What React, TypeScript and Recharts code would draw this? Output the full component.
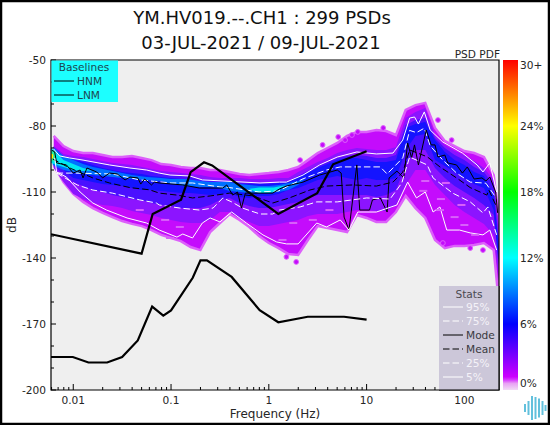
import React from "react";
import { ComposedChart, Area, Line, Bar, XAxis, YAxis, ReferenceArea } from "recharts";

const TITLE_1 = "YM.HV019.--.CH1 : 299 PSDs";
const TITLE_2 = "03-JUL-2021 / 09-JUL-2021";
const DB_TICKS = [-50,-60,-70,-80,-90,-100,-110,-120,-130,-140,-150,-160,-170,-180,-190,-200];
const DB_LABELLED = [-50,-80,-110,-140,-170,-200];
const FREQ_TICKS = [0.006,0.007,0.008,0.009,0.01,0.02,0.03,0.04,0.05,0.06,0.07,0.08,0.09,0.1,0.2,0.3,0.4,0.5,0.6,0.7,0.8,0.9,1,2,3,4,5,6,7,8,9,10,20,30,40,50,60,70,80,90,100,200];
const FREQ_LABELS: Record<string,string> = { "0.01":"0.01","0.1":"0.1","1":"1","10":"10","100":"100" };
const PDF_TICKS = [0,6,12,18,24,30];

// log10(frequency) of the PDF band samples
const gridL = [-2.2,-2.1,-2,-1.9,-1.8,-1.7,-1.6,-1.5,-1.4,-1.3,-1.2,-1.1,-1,-0.9,-0.8,-0.7,-0.6,-0.5,-0.4,-0.3,-0.2,-0.1,0,0.1,0.2,0.3,0.4,0.5,0.6,0.7,0.8,0.9,1,1.1,1.2,1.3,1.4,1.5,1.6,1.7,1.8,1.9,2,2.1,2.2,2.3,2.35];
const outerHigh = [-84.5,-89.1,-91.4,-92.3,-92.3,-93.2,-94.1,-94.1,-93.6,-94.5,-95.5,-97.3,-97.7,-98.6,-99.1,-99.1,-100,-100,-100.9,-101.8,-102.3,-101.8,-101.4,-100.9,-100,-98.6,-95.5,-92.3,-90,-87.7,-84.5,-82.7,-82.7,-81.8,-82.3,-84.1,-72.7,-70.5,-69.5,-80.9,-86.8,-89.1,-91.4,-92.3,-94.1,-102.3,-120.5];
const outerLow = [-97.7,-105.5,-110.9,-114.5,-117.3,-119.5,-121.4,-123.2,-124.5,-125.5,-127.3,-129.5,-130.9,-132.3,-135,-136.4,-128.2,-124.1,-120,-122.7,-125.9,-130,-133.2,-135.5,-138.2,-138.6,-131.8,-125.5,-126.4,-127.3,-128.2,-120.5,-121.8,-123.6,-123.6,-119.1,-111.8,-117.3,-121.8,-131.8,-135.5,-134.5,-134.5,-134.1,-133.2,-136.4,-159.1];
const violetHigh = [-89.1,-92.7,-93.6,-94.1,-95,-95.9,-96.8,-97.3,-97.7,-98.6,-99.5,-100.5,-100.9,-101.4,-101.8,-102.3,-103.2,-103.6,-103.6,-103.6,-104.1,-104.1,-104.1,-103.6,-103.6,-100.9,-98.6,-96.4,-94.5,-92.3,-90.9,-90,-90.5,-90.9,-90.9,-89.5,-76.4,-73.6,-71.8,-84.1,-88.6,-91.4,-93.2,-95.9,-99.1,-104.5,-125];
const violetLow = [-99.1,-105.5,-110.9,-113.2,-115,-115.9,-116.4,-117.3,-118.6,-119.5,-120.5,-121.8,-122.7,-123.6,-124.1,-124.1,-122.7,-119.1,-119.1,-121.8,-123.6,-125.5,-125.5,-124.5,-123.6,-122.7,-120.9,-120,-120,-120,-119.1,-118.2,-118.2,-118.6,-118.6,-115.9,-106.8,-100,-100,-106.8,-111.4,-115.9,-119.1,-121.8,-124.5,-129.5,-150];
const blueHigh = [-89.5,-93.6,-94.5,-95.5,-96.4,-97.3,-98.2,-98.6,-99.1,-100,-100.9,-101.8,-102.3,-102.7,-103.2,-104.1,-104.5,-105,-105,-105.5,-105.9,-105.9,-105.9,-105.5,-105,-102.7,-100.5,-98.2,-96.4,-94.5,-93.6,-93.2,-93.6,-94.5,-94.5,-93.2,-79.5,-77.3,-76.4,-85.5,-90,-93.2,-95.5,-98.6,-100.9,-106.8,-131.8];
const blueLow = [-97.7,-102.3,-105.5,-107.3,-109.1,-110,-111.4,-112.3,-113.2,-113.6,-115,-115.9,-116.4,-117.3,-117.3,-117.3,-115.9,-113.6,-112.7,-115,-116.4,-117.3,-117.3,-116.4,-115.5,-114.5,-112.7,-111.4,-111.4,-111.4,-111.4,-111.4,-111.4,-112.3,-111.4,-109.1,-97.7,-90.9,-90.9,-99.1,-103.6,-107.3,-110,-112.7,-115.9,-120.5,-140.9];
const coreHigh = [-90,-94.1,-95.5,-96.4,-97.7,-99.1,-100,-100.9,-101.4,-101.8,-102.7,-103.2,-103.6,-104.1,-104.5,-105.5,-105.9,-105.9,-105.9,-106.4,-106.4,-106.4,-106.4,-105.9,-105.5,-103.2,-101.4,-99.1,-97.3,-95.5,-94.5,-94.5,-95.5,-96.4,-96.4,-95.5,-80.9,-79.1,-78.2,-86.4,-91.8,-95.5,-97.7,-100.9,-102.7,-111.4,-134.1];
const coreLow = [-96.4,-100,-103.6,-104.5,-105.5,-106.4,-106.8,-107.3,-108.2,-109.1,-109.1,-109.5,-110,-110.5,-110.5,-110.9,-111.4,-110.9,-110.5,-112.3,-112.7,-111.8,-111.8,-110.9,-109.1,-108.2,-106.4,-104.5,-103.6,-102.7,-103.6,-104.5,-103.6,-104.5,-104.5,-103.6,-90.9,-84.5,-83.6,-95.5,-98.2,-100.9,-103.6,-106.4,-108.2,-118.2,-143.2];

const azureL = [-2.21,-2.1,-2,-1.9,-1.8,-1.7,-1.6,-1.5,-1.4,-1.25,-1.1,-1,-0.85,-0.7,-0.6,-0.5,-0.4,-0.3,-0.2,-0.1,0,0.1,0.2,0.3,0.36];
const azureHigh = [-89.5,-93.6,-95.5,-97.3,-98.6,-99.5,-100.5,-101.4,-102.3,-103.2,-103.6,-104.1,-104.1,-105,-105.5,-105.5,-105.5,-106.4,-106.8,-107.3,-107.3,-106.8,-105.9,-105,-104.1];
const azureLow = [-97.7,-100,-100.9,-101.8,-102.3,-102.7,-103.2,-103.6,-104.1,-104.5,-105,-106.4,-107.3,-107.7,-107.7,-108.2,-109.5,-110,-110.5,-110.5,-110.5,-110,-109.1,-106.8,-104.5];
const cyanLeftL = [-2.228,-2.1,-2,-1.9,-1.82];
const cyanLeftHigh = [-90,-95.5,-97.3,-99.1,-100];
const cyanLeftLow = [-96.8,-98.6,-100,-100.5,-100.2];
const cyanRightL = [-0.2,-0.1,0,0.05,0.1,0.17];
const cyanRightHigh = [-108.5,-108,-108,-108,-107.5,-107];
const cyanRightLow = [-108.7,-110.5,-110.5,-110,-108.6,-107.2];
const greenL = [-2.228,-2.2,-2.18];
const greenHigh = [-91,-91.2,-92];
const greenLow = [-96,-96,-94.5];
const yellowL = [-2.228,-2.205];
const yellowHigh = [-92.5,-93];
const yellowLow = [-95,-94.8];

// isolated PDF cells outside the main cloud, and the pale cells inside its lower part
const speckL = [0.55,0.91,0.78,1.17,0.71,0.32,1.73,0.85,1.87,0.18,0.28,1.78,2.19,2.06];
const speckDb = [-88.6,-82.7,-86.4,-80.9,-85,-95.5,-77.3,-84.1,-86.4,-139.5,-141.8,-133.2,-136.4,-135.5];
const paleL = [0.25,0.62,0.14,0.45,-1.06,-1.32,-0.91,-1.01,1.6,1.58,1.76,1.75,1.9,2,2.11,1.81,1.97];
const paleDb = [-124.1,-118.2,-131.8,-122.7,-122.7,-118.2,-125.9,-130.9,-105,-109.5,-113.2,-118.2,-121.4,-125,-129.5,-105.9,-115.9];

const p95L = [-2.21,-2.14,-2.04,-1.9,-1.63,-1.42,-1.25,-1.12,-1.01,-0.81,-0.68,-0.09,0.11,0.18,0.35,0.52,0.7,0.9,1.1,1.27,1.37,1.44,1.49,1.53,1.59,1.65,1.78,1.98,2.13,2.19,2.26,2.33];
const p95 = [-90,-93.6,-94.5,-95.5,-97.7,-99.1,-100,-101.4,-102.3,-102.7,-104.5,-105.9,-105.5,-105.5,-102.3,-97.7,-94.1,-91.8,-92.7,-92.3,-86.4,-76.4,-75.9,-79.1,-73.6,-81.8,-87.3,-92.3,-97.7,-100.9,-96.8,-110];
const p75L = [-2.17,-2,-1.6,-1.32,-1,-0.78,-0.5,-0.4,-0.1,0.1,0.35,0.59,0.73,1.14,1.21,1.37,1.44,1.51,1.59,1.65,1.78,1.92,2.06,2.22,2.33];
const p75 = [-101.4,-101.4,-101.8,-104.5,-105.9,-105.9,-107.7,-108,-110,-109.5,-104,-100,-98.6,-98.6,-101.8,-94.5,-82,-83,-81,-89,-95.5,-101.4,-105.5,-106,-113];
const meanL = [-2.21,-2.04,-1.8,-1.63,-1.42,-1.22,-1.12,-0.94,-0.78,-0.6,-0.4,-0.16,0.04,0.21,0.42,0.59,0.86,1.1,1.27,1.37,1.44,1.62,1.75,1.92,2.06,2.23,2.25,2.33];
const mean = [-95,-99,-103.6,-105.9,-108,-109,-110.5,-111.4,-112.7,-111.8,-110.5,-111.8,-115,-112.7,-109.1,-107.3,-106.8,-107.3,-105.5,-101,-90.9,-94,-98.6,-103.6,-108,-111.4,-109.1,-116.8];
const p25L = [-2.17,-1.96,-1.8,-1.6,-1.32,-1.15,-1.12,-0.91,-0.71,-0.57,-0.47,-0.38,-0.27,-0.09,0.04,0.11,0.32,0.49,0.7,1,1.24,1.36,1.44,1.62,1.68,1.88,2.06,2.19,2.24,2.33];
const p25 = [-101.4,-106.8,-109.1,-110.5,-113.6,-115,-115.9,-117.3,-118.2,-117.3,-112.7,-114.5,-117.3,-120,-120,-118.2,-116.8,-114.5,-114.5,-112.7,-113.2,-105.9,-94.1,-97.7,-103.6,-110.5,-114.5,-119.5,-116.8,-129.5];
const p5L = [-2.19,-2.17,-2.07,-1.93,-1.8,-1.66,-1.45,-1.25,-1.12,-0.94,-0.88,-0.78,-0.68,-0.6,-0.5,-0.38,-0.23,-0.06,0.08,0.18,0.3,0.49,0.59,0.73,0.82,0.91,1.1,1.31,1.42,1.51,1.6,1.68,1.75,1.82,1.95,2.06,2.19,2.26,2.33];
const p5 = [-94.5,-100.9,-103.2,-110,-115,-118.2,-121.8,-124.1,-127.3,-130.5,-129.1,-130.9,-124.1,-121.8,-123.6,-119.1,-124.1,-129.5,-132.7,-133.6,-133.6,-124.1,-125.9,-122.7,-127.3,-119.1,-119.1,-115.9,-105.5,-112.7,-110,-119.1,-116.8,-127.3,-127.3,-128.6,-129.5,-127.3,-136.4];
const modeL = [-2.22,-2.19,-2.17,-2.07,-2,-1.93,-1.9,-1.86,-1.76,-1.7,-1.63,-1.55,-1.47,-1.42,-1.34,-1.31,-1.27,-1.2,-1.17,-1.12,-0.88,-0.71,-0.47,-0.43,-0.37,-0.32,-0.28,-0.24,-0.09,0.04,0.11,0.18,0.35,0.52,0.7,0.74,0.77,0.82,0.9,0.93,1.03,1.06,1.14,1.21,1.23,1.31,1.38,1.42,1.46,1.49,1.53,1.61,1.66,1.7,1.73,1.8,1.83,1.92,1.98,2.03,2.1,2.18,2.22,2.26,2.32,2.34];
const mode = [-91,-91.8,-96.8,-97.7,-101.4,-100,-103.6,-99.1,-100.9,-103.6,-101.4,-101.8,-104.5,-103.2,-103.6,-106.4,-104.1,-106.8,-105.5,-105.9,-106.8,-108.2,-108.2,-106.8,-111.4,-110,-117.3,-110.5,-110.5,-110.5,-108.6,-107.3,-105.5,-102.3,-100,-101.4,-121.4,-127.3,-97.7,-118.2,-118.2,-113.6,-112.7,-119.1,-103.6,-100.5,-103.6,-87.7,-94.5,-88.6,-97.7,-81.8,-88.6,-88.6,-94.1,-93.2,-96.8,-97.7,-101.4,-98.6,-104.1,-103.6,-105,-103.2,-110,-119.5];

// Peterson noise models
const hnmFreq = [0.00592,0.05,0.0649,0.1266,0.1587,0.2174,0.2632,1.25,3.125,4.545,10];
const hnmDb = [-129.2,-138,-120,-113.5,-101,-96.5,-97.9,-120,-110.5,-97.41,-91.5];
const lnmFreq = [0.00592,0.0099,0.0143,0.0222,0.0316,0.0457,0.0641,0.0833,0.1,0.1667,0.2,0.2326,0.4167,0.806,1.25,2.5,5.88,10];
const lnmDb = [-185,-185,-187.5,-187.5,-185,-177.5,-162.1,-166.2,-163.8,-149,-141.1,-141.1,-148.6,-163.7,-169.2,-166.7,-166.7,-168];

const GRAD_OFFSETS = [0,0.2,0.4,0.6,0.8,0.96,0.97,0.98,1];
const GRAD_COLORS = ["#ff0000","#ffff00","#00ff00","#00ffff","#0000ff","#cc00ff","#d840ff","#e8a0f4","#f2dcf6"];

const toBand = (L:number[],hi:number[],lo:number[]) => L.map((l,i)=>({f:Math.pow(10,l),band:[lo[i],hi[i]]}));
const toLine = (L:number[],v:number[]) => L.map((l,i)=>({f:Math.pow(10,l),db:v[i]}));

const bands = [
  {id:"outer",color:"#c40cfc",stroke:"#dc60fa",sw:2.5,data:toBand(gridL,outerHigh,outerLow)},
  {id:"violet",color:"#8c14ff",stroke:"none",sw:0,data:toBand(gridL,violetHigh,violetLow)},
  {id:"blue",color:"#4a10ff",stroke:"none",sw:0,data:toBand(gridL,blueHigh,blueLow)},
  {id:"core",color:"#1414ff",stroke:"none",sw:0,data:toBand(gridL,coreHigh,coreLow)},
  {id:"azure",color:"#0070ff",stroke:"none",sw:0,data:toBand(azureL,azureHigh,azureLow)},
  {id:"cyanL",color:"#00e8f0",stroke:"none",sw:0,data:toBand(cyanLeftL,cyanLeftHigh,cyanLeftLow)},
  {id:"cyanR",color:"#00e8f0",stroke:"none",sw:0,data:toBand(cyanRightL,cyanRightHigh,cyanRightLow)},
  {id:"green",color:"#20f0a0",stroke:"none",sw:0,data:toBand(greenL,greenHigh,greenLow)},
  {id:"yellow",color:"#ffee00",stroke:"none",sw:0,data:toBand(yellowL,yellowHigh,yellowLow)},
];

const stats = [
  {id:"p95",name:"95%",color:"#ffffff",dash:undefined,data:toLine(p95L,p95)},
  {id:"p75",name:"75%",color:"#ffffff",dash:"6.5 3",data:toLine(p75L,p75)},
  {id:"mode",name:"Mode",color:"#000000",dash:undefined,data:toLine(modeL,mode)},
  {id:"mean",name:"Mean",color:"#000000",dash:"6.5 3",data:toLine(meanL,mean)},
  {id:"p25",name:"25%",color:"#ffffff",dash:"6.5 3",data:toLine(p25L,p25)},
  {id:"p5",name:"5%",color:"#ffffff",dash:undefined,data:toLine(p5L,p5)},
];
const hnmRows = hnmFreq.map((f,i)=>({f,db:hnmDb[i]}));
const lnmRows = lnmFreq.map((f,i)=>({f,db:lnmDb[i]}));
const speckRows = toLine(speckL,speckDb);
const paleRows = toLine(paleL,paleDb);

const FONT = "'DejaVu Sans', sans-serif";
const INK = "#262626";

const XTick = (p:any) => {
  const v = p.payload.value;
  const label = FREQ_LABELS[String(v)];
  return <g>
    <line x1={p.x} x2={p.x} y1={390} y2={label?384:387} stroke="#000" strokeWidth={1}/>
    {label && <text x={p.x} y={404} textAnchor="middle" fontSize={10.6} fontFamily={FONT} fill={INK}>{label}</text>}
  </g>;
};
const YTick = (p:any) => {
  const v = p.payload.value;
  const major = DB_LABELLED.includes(v);
  return <g>
    <line x1={51} x2={major?56:54} y1={p.y} y2={p.y} stroke="#000" strokeWidth={1}/>
    {major && <text x={46} y={p.y+4} textAnchor="end" fontSize={10.6} fontFamily={FONT} fill={INK}>{v}</text>}
  </g>;
};
const ScaleTick = (p:any) => {
  const v = p.payload.value;
  const dy = v===30?9:v===0?-3:4;
  return <text x={p.x} y={p.y+dy} fontSize={10.6} fontFamily={FONT} fill={INK}>{v===30?"30+":v+"%"}</text>;
};
const SpeckDot = (p:any) => <circle key={p.index} cx={p.cx} cy={p.cy} r={2.4} fill="#c40cfc" stroke="#dc60fa" strokeWidth={1}/>;
const PaleDot = (p:any) => <rect key={p.index} x={p.cx-4} y={p.cy-1} width={8} height={2} fill="#d860fa"/>;

const LEGEND_Y = [307,321,335,349,363,377];
const LOGO_X = [525,528.5,532,535.5,539,542.5,545.5];
const LOGO_H = [8,14,24,22,19,14,6];

export default function App(){
  return <div style={{position:"fixed",left:0,top:0,width:550,height:425,background:"#fff",overflow:"hidden"}}>
    <ComposedChart width={550} height={425} margin={{top:60,right:51,bottom:0,left:0}} style={{position:"absolute",left:0,top:0}}>
      <ReferenceArea x1={0.00592} x2={226} y1={-200} y2={-50} fill="#efefef" fillOpacity={1} stroke="none"/>
      <XAxis dataKey="f" type="number" scale="log" domain={[0.00592,226]} allowDataOverflow ticks={FREQ_TICKS} interval={0} height={35} tick={XTick} tickLine={false} axisLine={false} tickSize={0}/>
      <YAxis type="number" domain={[-200,-50]} ticks={DB_TICKS} interval={0} width={51} tick={YTick} tickLine={false} axisLine={false} tickSize={0}/>
      <Line data={speckRows} dataKey="db" stroke="none" dot={SpeckDot} activeDot={false} isAnimationActive={false}/>
      {bands.map(b=><Area key={b.id} data={b.data} dataKey="band" type="linear" fill={b.color} fillOpacity={1} stroke={b.stroke} strokeWidth={b.sw} isAnimationActive={false} dot={false} activeDot={false}/>)}
      <Line data={paleRows} dataKey="db" stroke="none" dot={PaleDot} activeDot={false} isAnimationActive={false}/>
      {stats.map(s=><Line key={s.id} data={s.data} dataKey="db" type="linear" stroke={s.color} strokeWidth={1} strokeDasharray={s.dash} dot={false} activeDot={false} isAnimationActive={false}/>)}
      <Line data={hnmRows} dataKey="db" type="linear" stroke="#000" strokeWidth={2.2} dot={false} activeDot={false} isAnimationActive={false}/>
      <Line data={lnmRows} dataKey="db" type="linear" stroke="#000" strokeWidth={2.2} dot={false} activeDot={false} isAnimationActive={false}/>
      <ReferenceArea x1={0.00592} x2={226} y1={-200} y2={-50} fill="none" stroke="#000" strokeWidth={1.2}/>
    </ComposedChart>

    <ComposedChart width={47} height={425} data={[{scale:"pdf",top:30}]} barCategoryGap={0} margin={{top:60,right:0,bottom:35,left:0}} style={{position:"absolute",left:503,top:0}}>
      <defs>
        <linearGradient id="pdfScale" x1="0" y1="0" x2="0" y2="1">
          {GRAD_OFFSETS.map((o,i)=><stop key={o} offset={o} stopColor={GRAD_COLORS[i]}/>)}
        </linearGradient>
      </defs>
      <XAxis dataKey="scale" type="category" hide/>
      <YAxis orientation="right" type="number" domain={[0,30]} ticks={PDF_TICKS} interval={0} width={32} tick={ScaleTick} tickLine={false} axisLine={false} tickSize={0} tickMargin={2}/>
      <Bar dataKey="top" fill="url(#pdfScale)" isAnimationActive={false}/>
    </ComposedChart>

    <svg width={550} height={425} style={{position:"absolute",left:0,top:0,pointerEvents:"none"}} fontFamily={FONT}>
      <text x={262} y={24} textAnchor="middle" fontSize={18} fill="#111">{TITLE_1}</text>
      <text x={261} y={49} textAnchor="middle" fontSize={18} fill="#111">{TITLE_2}</text>
      <text x={500} y={58} textAnchor="end" fontSize={10.6} fill={INK}>PSD PDF</text>
      <text x={275} y={418} textAnchor="middle" fontSize={12} fill={INK}>Frequency (Hz)</text>
      <text transform="translate(16,225) rotate(-90)" textAnchor="middle" fontSize={12} fill={INK}>dB</text>

      <rect x={51.5} y={60.5} width={66.5} height={41.5} fill="#1cffff"/>
      <text x={84} y={71} textAnchor="middle" fontSize={10.6} fill="#1c4650">Baselines</text>
      {["HNM","LNM"].map((t,i)=><g key={t}>
        <line x1={54} x2={74} y1={81+i*14} y2={81+i*14} stroke="#000" strokeWidth={1}/>
        <text x={77} y={85+i*14} fontSize={10.6} fill="#1c4650">{t}</text>
      </g>)}

      <rect x={439} y={286} width={60} height={104} fill="#ccc7d9"/>
      <line x1={499} x2={499} y1={286} y2={390} stroke="#000" strokeWidth={1.2}/>
      <line x1={439} x2={499.5} y1={390} y2={390} stroke="#000" strokeWidth={1.2}/>
      <text x={469} y={298} textAnchor="middle" fontSize={10.6} fill="#4a4a50">Stats</text>
      {stats.map((s,i)=><g key={s.id}>
        <line x1={443} x2={463} y1={LEGEND_Y[i]} y2={LEGEND_Y[i]} stroke={s.color} strokeWidth={1} strokeDasharray={s.dash}/>
        <text x={466} y={LEGEND_Y[i]+4} fontSize={10.6} fill={s.color==="#000000"?"#3a3a40":"#f4f2f8"}>{s.name}</text>
      </g>)}

      {LOGO_X.map((x,i)=><line key={x} x1={x} x2={x} y1={408-LOGO_H[i]/2} y2={408+LOGO_H[i]/2} stroke="#62c0dc" strokeWidth={2}/>)}

      <rect x={1} y={1} width={548} height={423} fill="none" stroke="#000" strokeWidth={2.5}/>
    </svg>
  </div>;
}
